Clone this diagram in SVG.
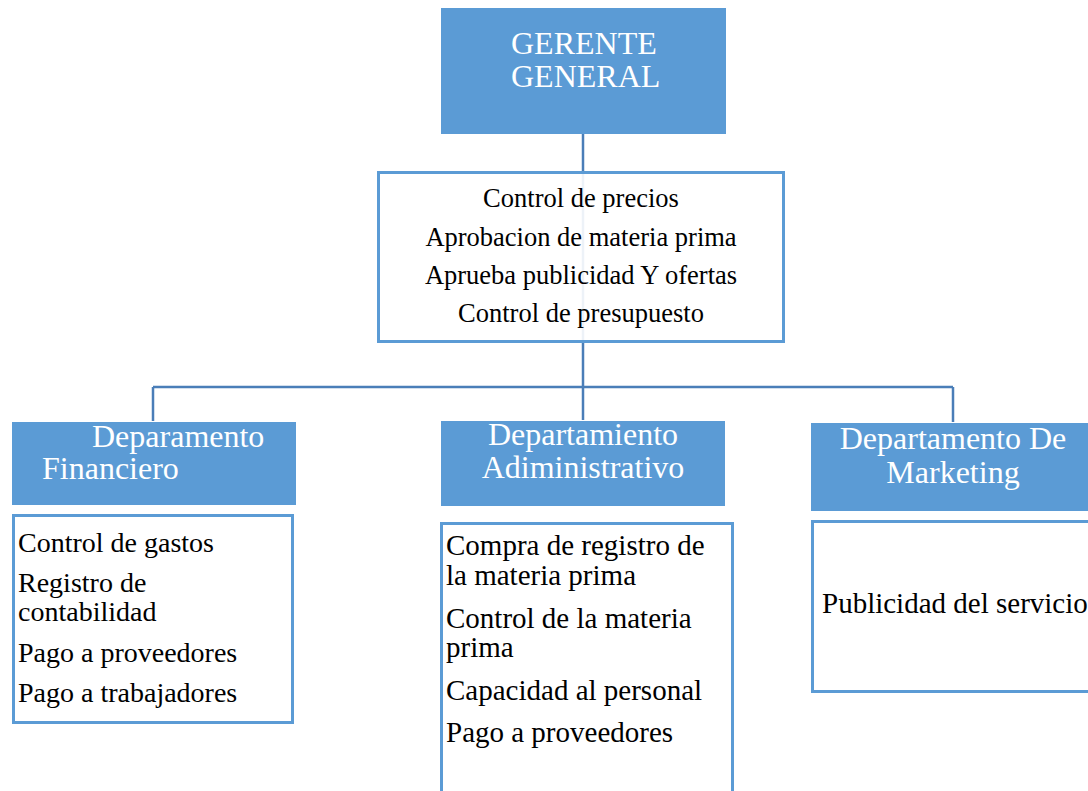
<svg xmlns="http://www.w3.org/2000/svg" width="1088" height="791" viewBox="0 0 1088 791">
<style>
.hdr{fill:#5B9BD5;}
.box{fill:#FFFFFF;stroke:#5B9BD5;stroke-width:3;}
.conn{fill:none;stroke:#4A7EB8;stroke-width:2.5;}
.ht{font-family:"Liberation Serif","Times New Roman",serif;font-size:32px;fill:#FFFFFF;}
.bt{font-family:"Liberation Serif","Times New Roman",serif;fill:#000000;}
</style>
<rect width="1088" height="791" fill="#FFFFFF"/>
<g id="connectors">
<path class="conn" d="M583,134 V387"/>
<path class="conn" d="M153,387 H953"/>
<path class="conn" d="M153,387 V421"/>
<path class="conn" d="M583,387 V420"/>
<path class="conn" d="M953,387 V422"/>
</g>
<g id="gerente">
<rect class="hdr" x="441" y="8" width="285" height="126"/>
<text class="ht" x="511" y="54">GERENTE</text>
<text class="ht" x="511" y="87">GENERAL</text>
</g>
<g id="funciones-gerente">
<rect class="box" x="378.5" y="172.5" width="405" height="169" fill-opacity="0.9"/>
<text class="bt" font-size="26.5" text-anchor="middle" x="581" y="207">Control de precios</text>
<text class="bt" font-size="26.5" text-anchor="middle" x="581" y="246">Aprobacion de materia prima</text>
<text class="bt" font-size="26.5" text-anchor="middle" x="581" y="284">Aprueba publicidad Y ofertas</text>
<text class="bt" font-size="26.5" text-anchor="middle" x="581" y="322">Control de presupuesto</text>
</g>
<g id="dep-financiero">
<rect class="hdr" x="12" y="422" width="284" height="83"/>
<text class="ht" x="92" y="447">Deparamento</text>
<text class="ht" x="42" y="479">Financiero</text>
</g>
<g id="funciones-financiero">
<rect class="box" x="13.5" y="515.5" width="279" height="207"/>
<text class="bt" font-size="28" x="18" y="552">Control de gastos</text>
<text class="bt" font-size="28" x="18" y="592">Registro de</text>
<text class="bt" font-size="28" x="18" y="621">contabilidad</text>
<text class="bt" font-size="28" x="18" y="662">Pago a proveedores</text>
<text class="bt" font-size="28" x="18" y="702">Pago a trabajadores</text>
</g>
<g id="dep-administrativo">
<rect class="hdr" x="441" y="421" width="284" height="85"/>
<text class="ht" text-anchor="middle" x="583" y="445">Departamiento</text>
<text class="ht" text-anchor="middle" x="583" y="478">Adiministrativo</text>
</g>
<g id="funciones-administrativo">
<rect class="box" x="441.5" y="523.5" width="291" height="280"/>
<text class="bt" font-size="29" x="446" y="555">Compra de registro de</text>
<text class="bt" font-size="29" x="446" y="585">la materia prima</text>
<text class="bt" font-size="29" x="446" y="628">Control de la materia</text>
<text class="bt" font-size="29" x="446" y="657">prima</text>
<text class="bt" font-size="29" x="446" y="700">Capacidad al personal</text>
<text class="bt" font-size="29" x="446" y="742">Pago a proveedores</text>
</g>
<g id="dep-marketing">
<rect class="hdr" x="811" y="423" width="284" height="88"/>
<text class="ht" text-anchor="middle" x="953" y="449">Departamento De</text>
<text class="ht" text-anchor="middle" x="953" y="483">Marketing</text>
</g>
<g id="funciones-marketing">
<rect class="box" x="812.5" y="521.5" width="285" height="170"/>
<text class="bt" font-size="29" x="822" y="613">Publicidad del servicio</text>
</g>
</svg>
